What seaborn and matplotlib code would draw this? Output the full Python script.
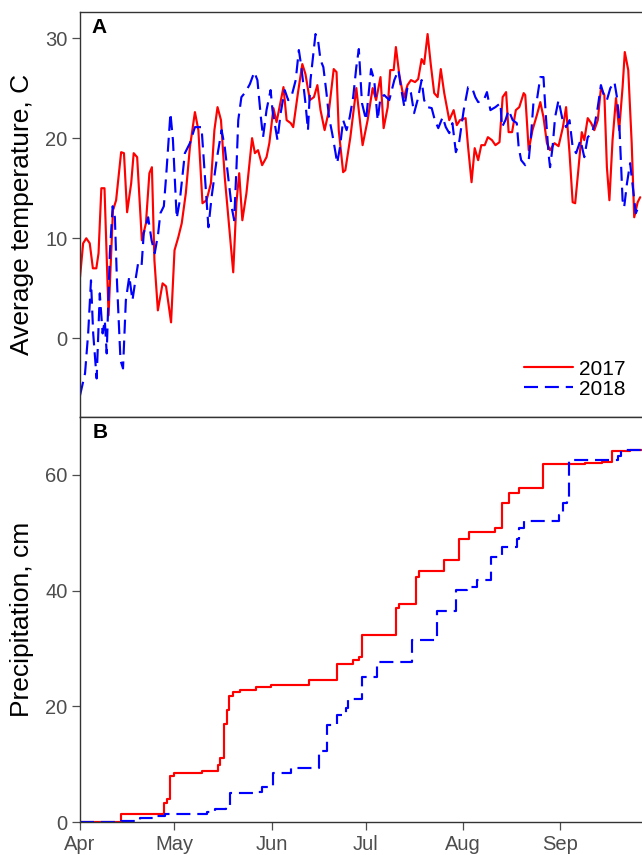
import numpy as np
import pandas as pd
import matplotlib
matplotlib.use("Agg")
import matplotlib.pyplot as plt
import seaborn as sns

# ---------------- data ----------------
month_labels = ["Apr", "May", "Jun", "Jul", "Aug", "Sep"]
month_start_day = [0, 30, 61, 91, 122, 153]   # days since 1 April

# daily average temperature (C), days since 1 April
t17_day = [0.0, 1.0, 2.0, 3.1, 4.1, 5.2, 5.9, 6.8, 7.8, 9.1,
           10.5, 11.5, 13.1, 14.0, 15.0, 16.3, 17.1, 18.2, 19.7, 21.0,
           22.1, 22.9, 23.7, 24.8, 26.3, 27.4, 29.0, 30.1, 31.3, 32.4,
           33.7, 35.0, 36.6, 37.7, 39.0, 40.3, 41.7, 42.8, 43.8, 44.9,
           46.1, 47.7, 48.8, 49.8, 50.7, 51.7, 53.0, 54.8, 55.7, 56.7,
           58.0, 59.4, 60.3, 61.6, 62.6, 64.8, 65.8, 67.1, 67.9, 69.4,
           70.8, 71.8, 73.2, 74.5, 75.6, 76.6, 77.9, 79.3, 80.8, 81.7,
           82.4, 83.8, 84.5, 86.1, 88.0, 90.0, 91.6, 93.2, 94.3, 95.7,
           96.7, 98.0, 98.8, 99.9, 100.6, 101.7, 103.1, 104.3, 105.4, 106.7,
           107.7, 108.8, 109.6, 110.7, 111.7, 112.8, 113.9, 114.9, 116.0, 117.6,
           119.0, 120.0, 121.0, 122.8, 123.6, 124.7, 125.7, 126.8, 127.8, 128.9,
           129.9, 131.2, 132.3, 133.6, 134.6, 135.7, 136.5, 137.6, 138.8, 139.9,
           141.3, 141.8, 142.9, 144.1, 145.5, 146.6, 147.6, 148.7, 149.7, 151.1,
           152.4, 153.8, 154.8, 155.9, 156.9, 157.7, 158.7, 159.8, 160.6, 161.7,
           162.8, 163.8, 164.9, 165.9, 167.0, 167.8, 168.6, 169.6, 170.7, 171.7,
           172.8, 173.5, 174.6, 175.7, 176.5, 177.6, 178.4]
t17_val = [6.1, 9.5, 10.0, 9.5, 7.0, 7.0, 8.5, 15.0, 15.0, 2.3,
           12.8, 13.8, 18.6, 18.5, 12.6, 15.5, 18.5, 18.1, 9.8, 11.5,
           16.5, 17.1, 7.8, 2.8, 5.5, 5.2, 1.6, 8.8, 10.1, 11.5,
           14.5, 19.1, 22.6, 20.8, 13.5, 13.8, 15.5, 20.8, 23.1, 21.8,
           16.1, 10.5, 6.6, 13.5, 16.5, 11.8, 14.5, 20.0, 18.5, 18.8,
           17.3, 18.1, 19.5, 23.0, 21.6, 25.1, 21.8, 21.5, 21.1, 24.5,
           27.4, 26.4, 23.8, 24.1, 25.3, 22.8, 20.8, 22.8, 26.9, 26.6,
           20.8, 16.6, 16.8, 20.1, 25.0, 19.3, 21.8, 25.0, 23.8, 26.1,
           21.0, 23.1, 26.8, 26.8, 29.1, 26.3, 24.0, 25.3, 25.8, 25.6,
           25.9, 27.9, 27.4, 30.4, 27.4, 24.5, 24.1, 26.9, 24.5, 21.8,
           22.8, 21.3, 21.8, 22.0, 19.1, 15.6, 19.0, 17.8, 19.3, 19.3,
           20.1, 19.8, 19.3, 19.6, 24.1, 24.6, 20.6, 20.6, 22.8, 23.1,
           24.5, 24.3, 18.8, 20.8, 22.3, 23.6, 22.1, 19.5, 18.8, 19.5,
           19.2, 21.1, 23.1, 18.5, 13.6, 13.5, 16.8, 20.6, 19.8, 22.0,
           21.5, 20.8, 21.8, 25.0, 24.3, 17.1, 13.8, 19.8, 24.0, 20.8,
           25.1, 28.6, 26.8, 19.5, 12.1, 13.6, 14.1]

t18_day = [0.0, 1.6, 2.6, 3.5, 4.2, 5.3, 6.3, 7.2, 7.9, 8.5,
           9.5, 10.4, 11.1, 11.8, 12.9, 13.7, 14.6, 15.7, 16.7, 17.5,
           18.5, 19.6, 20.3, 21.7, 22.8, 23.8, 24.9, 25.6, 26.7, 27.5,
           28.8, 29.6, 30.8, 31.8, 33.4, 35.0, 36.6, 38.7, 39.8, 40.9,
           41.9, 43.5, 45.1, 46.1, 47.2, 48.3, 49.1, 49.8, 50.4, 51.4,
           52.7, 54.1, 55.5, 56.5, 57.6, 58.3, 59.4, 60.7, 61.3, 62.9,
           63.9, 65.2, 66.3, 67.3, 68.7, 69.7, 70.5, 71.8, 72.6, 73.4,
           75.0, 75.8, 76.6, 77.5, 78.5, 79.3, 80.3, 81.4, 81.9, 82.8,
           83.8, 84.9, 85.9, 87.0, 88.0, 88.8, 89.8, 91.1, 92.7, 93.7,
           94.8, 95.7, 96.9, 98.5, 100.1, 101.4, 102.2, 103.3, 104.3, 105.4,
           106.4, 107.5, 108.8, 109.6, 110.7, 112.0, 113.0, 114.1, 115.5, 116.5,
           117.6, 118.6, 119.7, 120.7, 122.2, 123.6, 124.9, 125.9, 126.8, 128.6,
           129.6, 130.7, 132.3, 133.9, 134.4, 135.5, 136.5, 137.8, 139.1, 139.7,
           140.5, 141.8, 142.9, 143.7, 144.4, 145.5, 146.6, 147.6, 148.3, 149.2,
           149.7, 150.5, 151.3, 152.4, 153.7, 154.8, 155.9, 156.9, 158.0, 159.4,
           160.6, 161.7, 163.0, 164.0, 164.9, 165.9, 167.0, 167.8, 168.9, 170.2,
           171.0, 171.7, 172.3, 172.8, 173.3, 174.2, 175.2, 176.3, 177.0, 178.1]
t18_val = [-5.7, -3.5, 0.5, 5.8, 0.5, -4.0, 4.5, 0.5, 1.8, -1.5,
           8.5, 13.2, 12.1, 5.5, -2.2, -3.0, 3.8, 6.2, 3.8, 5.5,
           7.5, 7.2, 10.5, 12.1, 9.8, 8.5, 10.5, 12.5, 13.2, 16.5,
           22.5, 19.8, 12.0, 13.8, 18.5, 19.5, 21.1, 21.1, 16.1, 11.1,
           14.1, 17.8, 20.8, 19.1, 16.1, 13.1, 11.8, 16.8, 21.8, 24.1,
           24.6, 25.4, 26.6, 25.8, 22.1, 20.1, 22.8, 24.8, 22.8, 19.8,
           22.5, 24.8, 23.8, 24.1, 25.8, 28.8, 27.1, 23.5, 20.8, 25.8,
           30.4, 29.8, 27.8, 27.1, 24.5, 22.1, 20.5, 18.5, 17.5, 19.1,
           21.8, 20.8, 22.1, 24.1, 27.1, 28.9, 23.5, 21.8, 26.9, 25.8,
           21.8, 24.1, 24.3, 23.8, 25.8, 26.8, 25.1, 23.1, 25.1, 24.5,
           22.5, 23.8, 25.8, 23.8, 23.1, 23.0, 21.8, 21.0, 22.1, 21.1,
           20.5, 21.5, 18.6, 19.5, 22.8, 25.1, 25.0, 24.1, 23.6, 23.8,
           24.6, 22.8, 23.1, 23.5, 21.1, 21.8, 22.8, 21.8, 21.5, 19.1,
           17.8, 17.3, 17.8, 20.5, 23.5, 23.8, 26.1, 26.1, 22.5, 18.5,
           17.1, 19.1, 22.1, 23.8, 21.8, 21.1, 21.8, 19.1, 18.5, 19.8,
           18.1, 20.1, 20.5, 21.5, 23.1, 25.3, 24.1, 23.8, 25.0, 25.6,
           24.1, 21.8, 17.5, 13.8, 13.1, 15.5, 17.5, 14.5, 12.5, 13.3]

# cumulative precipitation (cm)
p17_day = [0, 12.9, 26.7, 27.7, 28.8, 29.8, 38.9, 43.9, 44.7, 45.8,
           46.8, 47.6, 48.7, 50.8, 55.9, 60.8, 72.8, 81.7, 86.8, 88.9,
           89.7, 100.7, 101.6, 106.9, 107.9, 115.9, 120.6, 123.8, 132.3, 134.4,
           136.7, 139.7, 147.6, 160.8, 166.1, 169.5, 175.0, 179.9]
p17_cum = [0, 1.4, 3.3, 4.0, 8.0, 8.5, 8.9, 9.9, 11.0, 17.0,
           19.3, 21.8, 22.4, 22.8, 23.4, 23.7, 24.6, 27.3, 28.0, 28.5,
           32.3, 37.0, 37.6, 42.4, 43.3, 45.2, 49.0, 50.2, 50.8, 55.2,
           56.8, 57.7, 61.8, 62.0, 62.3, 64.2, 64.3, 64.3]
p18_day = [0, 13.0, 19.0, 23.3, 27.0, 40.3, 42.9, 46.6, 47.8, 56.0,
           58.0, 61.4, 67.2, 76.0, 78.8, 82.0, 84.7, 85.2, 89.7, 94.7,
           105.8, 113.8, 119.6, 123.3, 126.5, 131.0, 134.4, 139.3, 139.9, 141.3,
           152.4, 153.7, 155.0, 155.8, 171.2, 172.3, 179.9]
p18_cum = [0, 0.2, 0.7, 1.1, 1.4, 1.8, 2.2, 2.6, 5.0, 5.1,
           6.1, 8.5, 9.3, 12.2, 16.8, 18.5, 19.7, 21.2, 25.0, 27.7,
           31.5, 36.5, 40.1, 40.7, 41.8, 45.8, 47.6, 48.9, 50.9, 52.1,
           53.1, 55.1, 56.0, 62.5, 63.3, 64.3, 64.3]

years = ["2017", "2018"]

temp_df = pd.concat([
    pd.DataFrame({"day": t17_day, "temp": t17_val, "year": years[0]}),
    pd.DataFrame({"day": t18_day, "temp": t18_val, "year": years[1]}),
], ignore_index=True)
prec_df = pd.concat([
    pd.DataFrame({"day": p17_day, "prec": p17_cum, "year": years[0]}),
    pd.DataFrame({"day": p18_day, "prec": p18_cum, "year": years[1]}),
], ignore_index=True)

# ---------------- style ----------------
sns.set_style("white")
plt.rcParams["font.family"] = ["Liberation Sans", "DejaVu Sans"]

palette = {"2017": "#FF0000", "2018": "#0000FF"}
dashes = {"2017": "", "2018": (6.5, 3.2)}
LW = 1.55
SPINE = "#333333"
TICKC = "#4D4D4D"

fig = plt.figure(figsize=(6.42, 8.55), dpi=100)
W, H = 642, 855
left = 80 / W
width = 565 / W
ax1 = fig.add_axes([left, 1 - 417 / H, width, 405 / H])
ax2 = fig.add_axes([left, 1 - 822 / H, width, 405 / H])

sns.lineplot(data=temp_df, x="day", y="temp", hue="year", style="year",
             palette=palette, dashes=dashes, estimator=None, sort=False,
             linewidth=LW, ax=ax1)
sns.lineplot(data=prec_df, x="day", y="prec", hue="year", style="year",
             palette=palette, dashes=dashes, estimator=None, sort=False,
             linewidth=LW, drawstyle="steps-post", legend=False, ax=ax2)

xmax = 565 / 3.14
for ax in (ax1, ax2):
    ax.set_xlim(0, xmax)
    for s in ax.spines.values():
        s.set_color(SPINE)
        s.set_linewidth(1.0)
        s.set_visible(True)
    ax.tick_params(axis="y", which="major", direction="out", length=5.5, width=0.9,
                   color=TICKC, labelcolor=TICKC, labelsize=14.5, pad=3.5, left=True)
    ax.grid(False)

ax1.set_ylim(-7.85, 32.6)
ax1.set_yticks([0, 10, 20, 30])
ax1.set_xticks([])
ax1.set_xlabel("")
ax1.set_ylabel("Average temperature, C", fontsize=19, color="black")

ax2.set_ylim(0, 70)
ax2.set_yticks([0, 20, 40, 60])
ax2.set_xticks(month_start_day)
ax2.set_xticklabels(month_labels)
ax2.tick_params(axis="x", which="major", direction="out", length=5.5, width=0.9,
                color=TICKC, labelcolor=TICKC, labelsize=14.5, pad=3.5, bottom=True)
ax2.set_xlabel("")
ax2.set_ylabel("Precipitation, cm", fontsize=19, color="black")

ax1.yaxis.set_label_coords(34 / W, 1 - 214.5 / H, transform=fig.transFigure)
ax2.yaxis.set_label_coords(34 / W, 1 - 619.5 / H, transform=fig.transFigure)

# panel letters
ax1.text(0.0195, 0.985, "A", transform=ax1.transAxes, ha="left", va="top",
         fontsize=15, fontweight="bold", color="black")
ax2.text(0.023, 0.985, "B", transform=ax2.transAxes, ha="left", va="top",
         fontsize=15, fontweight="bold", color="black")

# legend
handles, labels = ax1.get_legend_handles_labels()
pairs = [(h, l) for h, l in zip(handles, labels) if l in years]
old = ax1.get_legend()
if old is not None:
    old.remove()
leg = ax1.legend([p[0] for p in pairs], [p[1] for p in pairs],
                 loc="lower right", bbox_to_anchor=(0.966, 0.045),
                 frameon=False, fontsize=15, handlelength=2.35,
                 handletextpad=0.3, labelspacing=0.05, borderpad=0.0,
                 borderaxespad=0.0)
for t in leg.get_texts():
    t.set_color("black")

fig.savefig("out.png", dpi=100)
